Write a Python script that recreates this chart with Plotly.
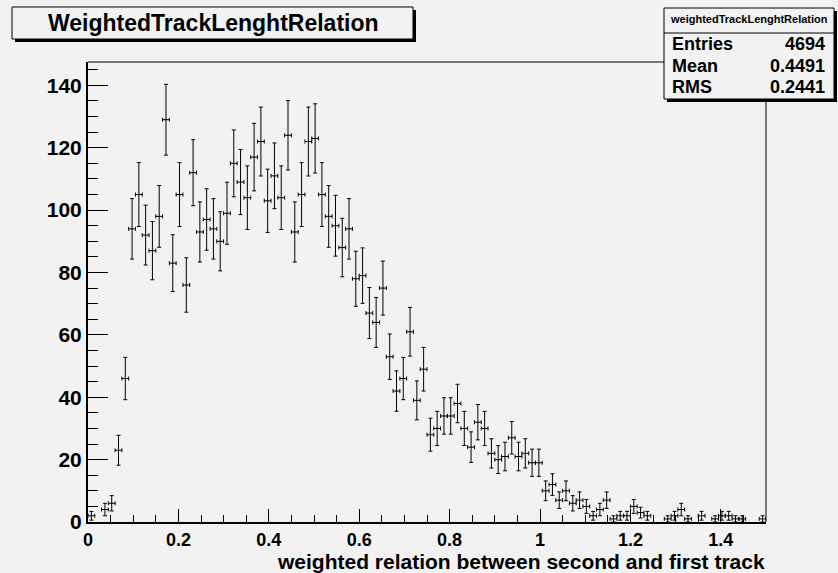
import plotly.graph_objects as go

# ---- data ----
bin_low = 0.0
bin_width = 0.015
counts = [2, 0, 4, 6, 23, 46, 94, 105, 92, 87,
          98, 129, 83, 105, 76, 112, 93, 97, 94, 90,
          99, 115, 109, 104, 117, 122, 103, 111, 104, 124,
          93, 105, 122, 123, 105, 98, 95, 88, 94, 78,
          79, 67, 64, 75, 53, 42, 46, 61, 39, 49,
          28, 30, 34, 34, 38, 30, 24, 32, 30, 22,
          20, 21, 27, 21, 22, 19, 19, 10, 12, 7,
          10, 6, 7, 5, 2, 4, 7, 1, 2, 2,
          5, 3, 2, 0, 0, 1, 2, 4, 1, 0,
          2, 0, 1, 2, 2, 1, 1, 0, 0, 1]
hist_name = "weightedTrackLenghtRelation"
title_text = "WeightedTrackLenghtRelation"
x_title = "weighted relation between second and first track"
stats_labels = ["Entries", "Mean", "RMS"]
stats_values = ["4694", "0.4491", "0.2441"]
x_ticks = [0, 0.2, 0.4, 0.6, 0.8, 1.0, 1.2, 1.4]
x_tick_text = ["0", "0.2", "0.4", "0.6", "0.8", "1", "1.2", "1.4"]
y_ticks = [0, 20, 40, 60, 80, 100, 120, 140]

xs, ys, ey = [], [], []
for i, c in enumerate(counts):
    if c > 0:
        xs.append(bin_low + bin_width * (i + 0.5))
        ys.append(c)
        ey.append(c ** 0.5)

BG = "#f2f2f2"
FONT = "Liberation Sans"

fig = go.Figure()
fig.add_trace(go.Scatter(
    x=xs, y=ys, mode="markers",
    marker=dict(size=1, color="black"),
    error_y=dict(type="data", array=ey, visible=True, color="black", thickness=1, width=2),
    error_x=dict(type="constant", value=bin_width / 2, visible=True, color="black", thickness=1, width=2),
    showlegend=False, hoverinfo="skip", cliponaxis=False,
))

W, H = 838, 573
L, R, T, B = 88, 766, 62, 522
pw, ph = R - L, B - T


def px(x):
    return (x - L) / pw


def py(y):
    return (B - y) / ph


shapes = []
# frame top / right
shapes.append(dict(type="line", xref="paper", yref="paper", x0=0, x1=1, y0=1, y1=1,
                   line=dict(color="black", width=1)))
shapes.append(dict(type="line", xref="paper", yref="paper", x0=1, x1=1, y0=0, y1=1,
                   line=dict(color="black", width=1)))
# title box with shadow
shapes.append(dict(type="rect", xref="paper", yref="paper", x0=px(15), x1=px(416), y0=py(42), y1=py(10),
                   fillcolor="black", line=dict(width=0)))
shapes.append(dict(type="rect", xref="paper", yref="paper", x0=px(12), x1=px(413), y0=py(39), y1=py(7),
                   fillcolor=BG, line=dict(color="black", width=1)))
# stats box with shadow
shapes.append(dict(type="rect", xref="paper", yref="paper", x0=px(667), x1=px(837), y0=py(102), y1=py(11),
                   fillcolor="black", line=dict(width=0)))
shapes.append(dict(type="rect", xref="paper", yref="paper", x0=px(664), x1=px(834), y0=py(99), y1=py(8),
                   fillcolor=BG, line=dict(color="black", width=1)))
shapes.append(dict(type="line", xref="paper", yref="paper", x0=px(664), x1=px(834), y0=py(33), y1=py(33),
                   line=dict(color="black", width=1)))

ann = []
ann.append(dict(text=title_text, xref="paper", yref="paper", x=px(213), y=py(23),
                xanchor="center", yanchor="middle", showarrow=False,
                font=dict(family=FONT, size=23, color="black", weight="bold")))
ann.append(dict(text=hist_name, xref="paper", yref="paper", x=px(749), y=py(19),
                xanchor="center", yanchor="middle", showarrow=False,
                font=dict(family=FONT, size=11, color="black", weight="bold")))
for i, (lab, val) in enumerate(zip(stats_labels, stats_values)):
    yy = 44 + i * 21.5
    ann.append(dict(text=lab, xref="paper", yref="paper", x=px(670), y=py(yy),
                    xanchor="left", yanchor="middle", showarrow=False,
                    font=dict(family=FONT, size=18, color="black", weight="bold")))
    ann.append(dict(text=val, xref="paper", yref="paper", x=px(827), y=py(yy),
                    xanchor="right", yanchor="middle", showarrow=False,
                    font=dict(family=FONT, size=18, color="black", weight="bold")))
ann.append(dict(text=x_title, xref="paper", yref="paper", x=px(767), y=py(561),
                xanchor="right", yanchor="middle", showarrow=False,
                font=dict(family=FONT, size=21, color="black", weight="bold")))

fig.update_layout(
    width=W, height=H,
    margin=dict(l=L, r=W - R, t=T, b=H - B, autoexpand=False),
    paper_bgcolor=BG, plot_bgcolor=BG,
    shapes=shapes, annotations=ann,
    xaxis=dict(range=[0, 1.5], tickvals=x_ticks, ticktext=x_tick_text,
               ticks="inside", ticklen=13, tickwidth=1, tickcolor="black",
               minor=dict(dtick=0.05, tick0=0, ticks="inside", ticklen=7, tickcolor="black", tickwidth=1),
               showgrid=False, zeroline=False, showline=True, linecolor="black", linewidth=2,
               tickfont=dict(family=FONT, size=18, color="black", weight="bold")),
    yaxis=dict(range=[0, 147.5], tickvals=y_ticks,
               ticks="inside", ticklen=20, tickwidth=1, tickcolor="black",
               minor=dict(dtick=5, tick0=0, ticks="inside", ticklen=10, tickcolor="black", tickwidth=1),
               showgrid=False, zeroline=False, showline=True, linecolor="black", linewidth=2,
               tickfont=dict(family=FONT, size=21, color="black", weight="bold")),
)

fig.write_html("out.html", config={"displayModeBar": False},
               post_script="document.body.style.margin='0px';")
